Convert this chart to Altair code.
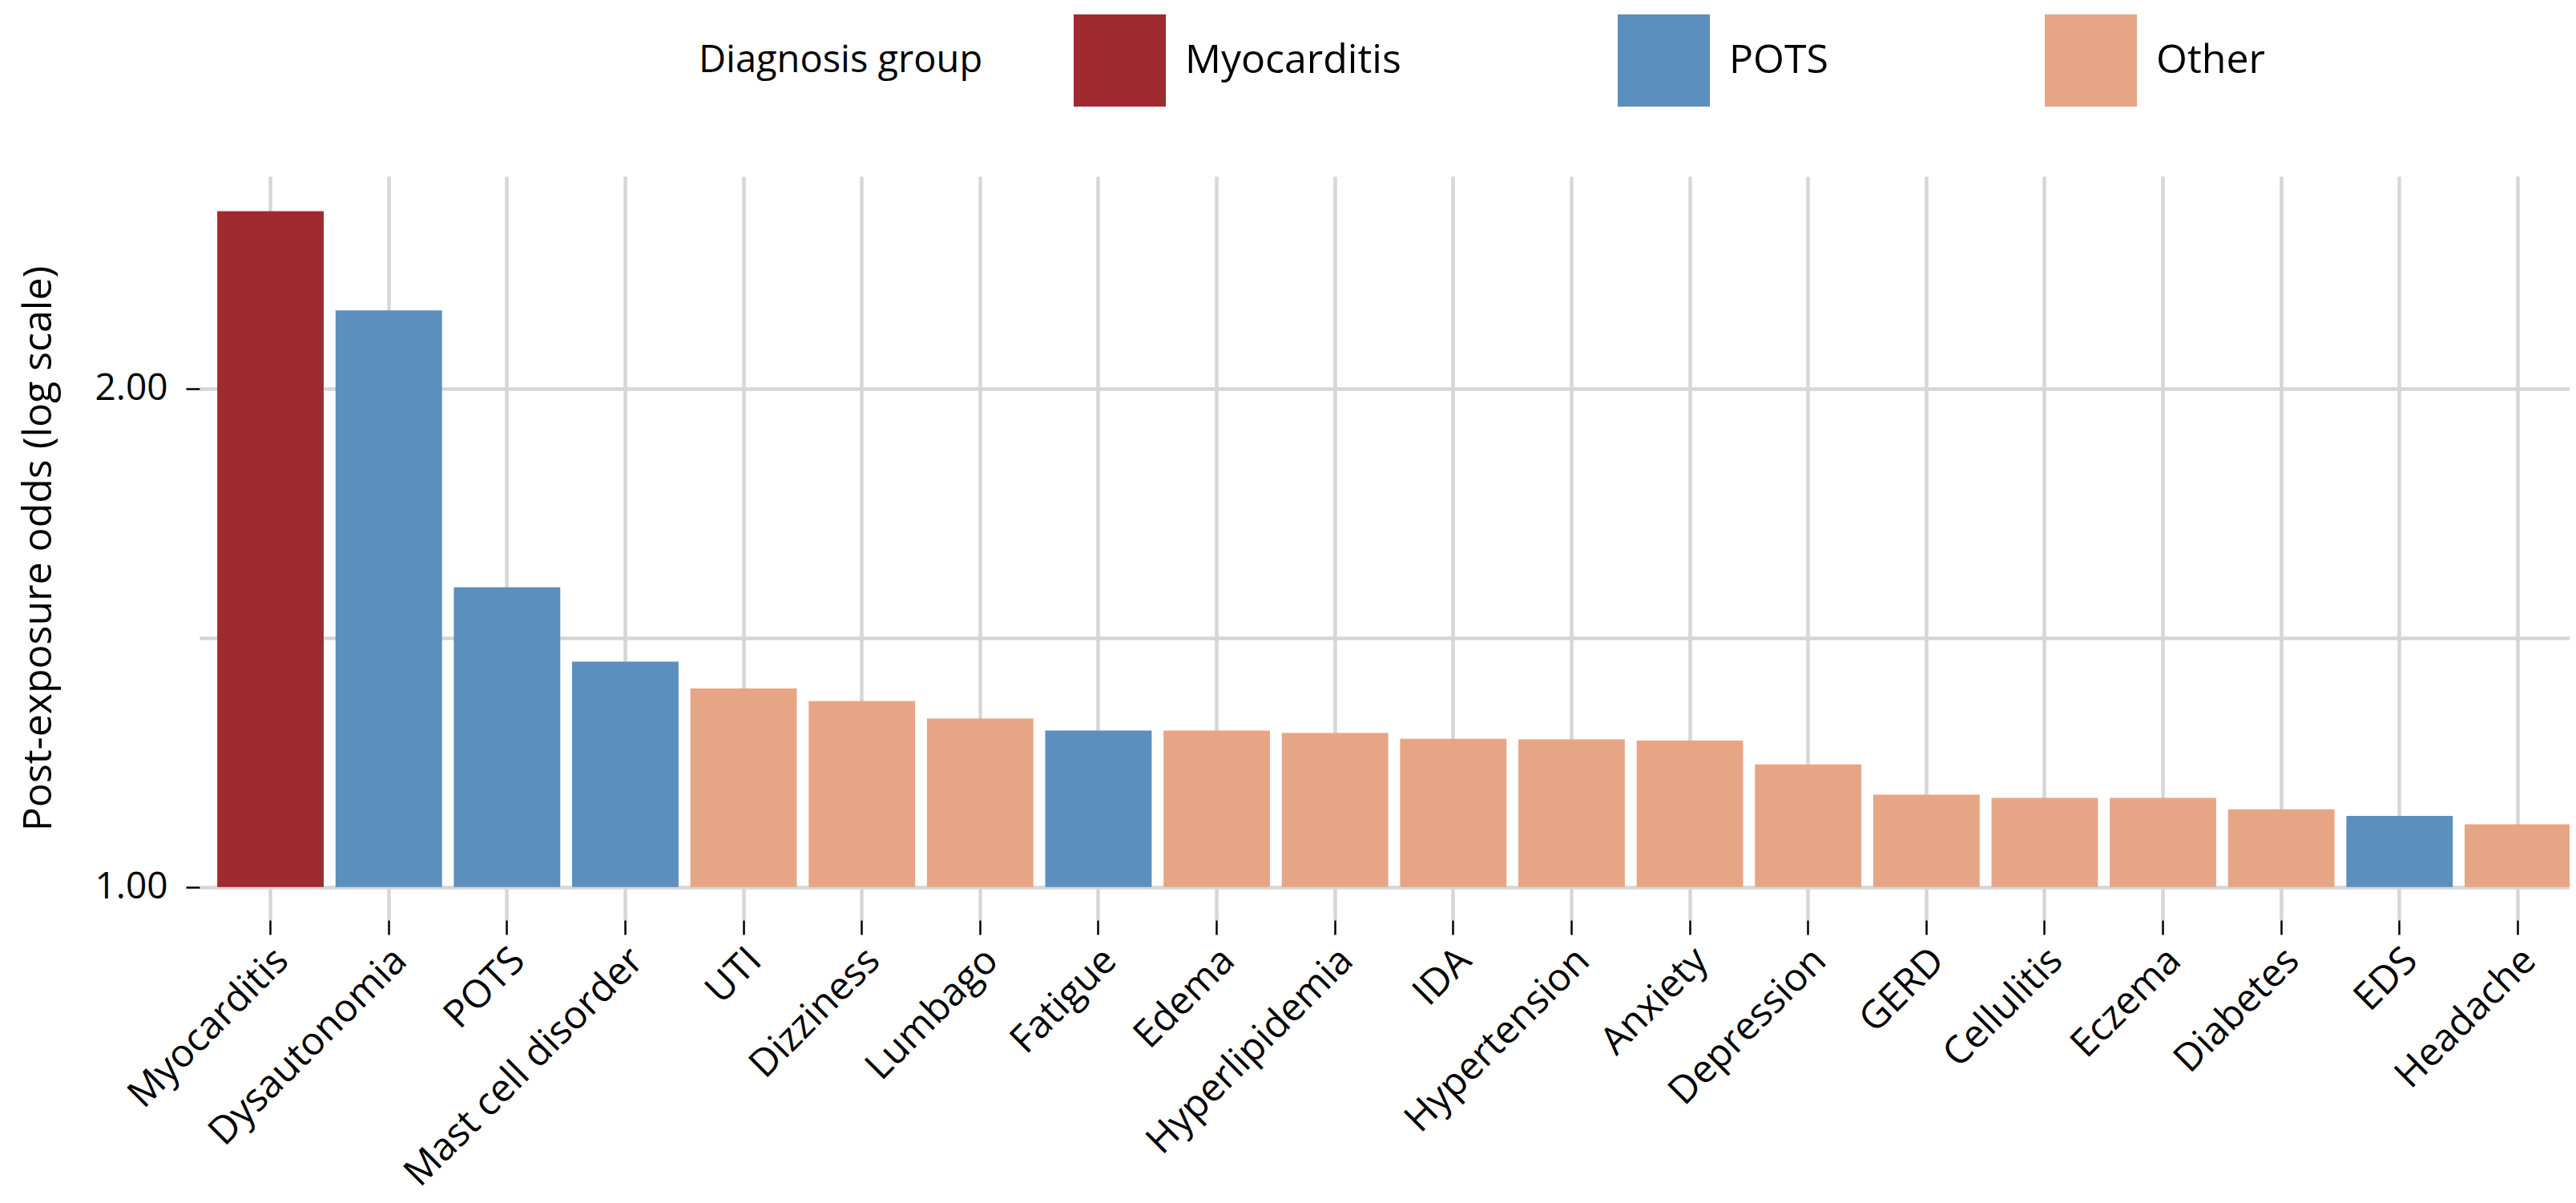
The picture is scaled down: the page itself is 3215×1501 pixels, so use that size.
import altair as alt
import pandas as pd

# ---- data ----
categories = ["Myocarditis", "Dysautonomia", "POTS", "Mast cell disorder", "UTI",
              "Dizziness", "Lumbago", "Fatigue", "Edema", "Hyperlipidemia", "IDA",
              "Hypertension", "Anxiety", "Depression", "GERD", "Cellulitis", "Eczema",
              "Diabetes", "EDS", "Headache"]
groups = ["Myocarditis", "POTS", "POTS", "POTS", "Other",
          "Other", "Other", "POTS", "Other", "Other", "Other",
          "Other", "Other", "Other", "Other", "Other", "Other",
          "Other", "POTS", "Other"]
odds = [2.56, 2.23, 1.517, 1.368, 1.318,
        1.295, 1.264, 1.243, 1.243, 1.239, 1.229,
        1.228, 1.226, 1.186, 1.137, 1.132, 1.132,
        1.114, 1.104, 1.091]

group_order = ["Myocarditis", "POTS", "Other"]
group_colors = ["#a12a31", "#5b8fbe", "#e6a686"]

y_label_ticks = [1.0, 2.0]
y_grid_values = [1.0, 2 ** 0.5, 2.0]
y_domain = [0.955, 2.687]

df = pd.DataFrame({
    "diagnosis": categories,
    "group": groups,
    "odds": odds,
    "base": [1.0] * len(categories),
})

FONT = "Open Sans"
GRID = "#d6d6d6"

bars = alt.Chart(df).mark_bar(strokeWidth=0).encode(
    x=alt.X(
        "diagnosis:N",
        sort=categories,
        title=None,
        scale=alt.Scale(paddingInner=0.1, paddingOuter=0.15, range=[0, 2982]),
        axis=alt.Axis(
            labelAngle=-45,
            labelAlign="right",
            labelBaseline="top",
            labelFontSize=48,
            labelFont=FONT,
            labelColor="black",
            labelPadding=8,
            labelOffset=-2,
            labelOverlap=False,
            labelLimit=0,
            grid=True,
            gridColor=GRID,
            gridWidth=4.5,
            ticks=True,
            tickColor="black",
            tickSize=18,
            tickWidth=2.5,
            domain=False,
            bandPosition=0.5,
        ),
    ),
    y=alt.Y(
        "odds:Q",
        title="Post-exposure odds (log scale)",
        scale=alt.Scale(type="log", domain=y_domain, nice=False),
        axis=alt.Axis(
            values=y_grid_values,
            format=".2f",
            labelExpr="(datum.value > 0.99 && datum.value < 1.01) || (datum.value > 1.99 && datum.value < 2.01) ? datum.label : ''",
            tickOpacity={"condition": {"test": "datum.value < 1.2 || datum.value > 1.8", "value": 1}, "value": 0},
            labelFontSize=46,
            labelFont=FONT,
            labelColor="black",
            labelPadding=23,
            grid=True,
            gridColor=GRID,
            gridWidth=4.5,
            tickColor="black",
            tickSize=17,
            tickWidth=2.5,
            domain=False,
            titleFontSize=50,
            titleFont=FONT,
            titleFontWeight="normal",
            titleColor="black",
            titlePadding=45,
        ),
    ),
    y2="base:Q",
    color=alt.Color(
        "group:N",
        scale=alt.Scale(domain=group_order, range=group_colors),
        legend=alt.Legend(
            title="Diagnosis group",
            orient="none",
            legendX=623,
            legendY=-202,
            direction="horizontal",
            titleOrient="left",
            titleAnchor="middle",
            titleBaseline="middle",
            titleFontSize=47,
            titleFont=FONT,
            titleFontWeight="normal",
            titleColor="black",
            titlePadding=113,
            titleLimit=2000,
            labelFontSize=50,
            labelFont=FONT,
            labelColor="black",
            labelOffset=24,
            labelLimit=0,
            columnPadding=270,
            symbolType="square",
            symbolSize=13225,
            symbolStrokeWidth=0,
            symbolOpacity=1,
        ),
    ),
)

chart = (
    bars.properties(
        width=2958,
        height=928,
        autosize=alt.AutoSizeParams(type="none"),
        padding={"left": 241, "top": 212, "right": 0, "bottom": 344},
    )
    .configure(font=FONT, background="white")
    .configure_view(strokeWidth=0, stroke="transparent")
)

chart.save("out.html", embed_options={"renderer": "svg", "actions": False})
